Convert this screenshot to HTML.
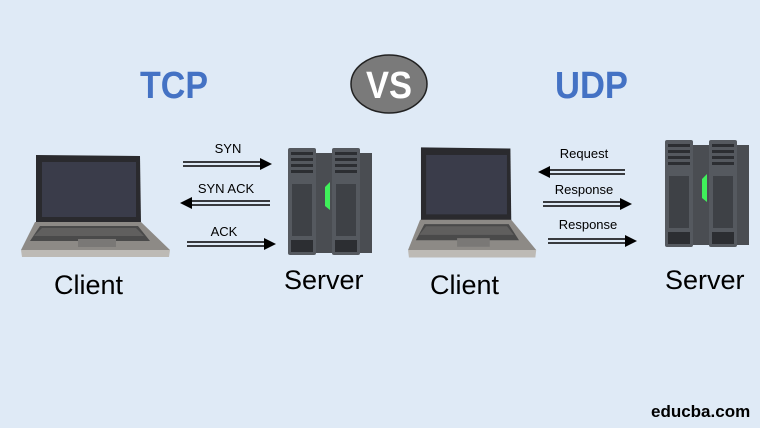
<!DOCTYPE html>
<html><head><meta charset="utf-8"><style>
html,body{margin:0;padding:0;background:#dfeaf6;}
svg{display:block;}
text{font-family:"Liberation Sans",sans-serif;}
</style></head><body>
<svg width="760" height="428" viewBox="0 0 760 428" xmlns="http://www.w3.org/2000/svg">
<defs>
<g id="laptop">
  <path d="M36,155 L140,156 L141,223 L36,223 Z" fill="#2a2a2e"/>
  <rect x="42" y="162" width="94" height="55" fill="#3a3c4a"/>
  <path d="M35,222 L141,222 L170,250 L21,250 Z" fill="#8d8a86"/>
  <path d="M40,226 L138,226 L150,241 L30,241 Z" fill="#4a4a4a"/>
  <path d="M42,228 L136,228 L144,236 L34,236 Z" fill="#6a6866" opacity="0.7"/>
  <rect x="78" y="239" width="38" height="8" fill="#7a7876"/>
  <path d="M21,250 L170,250 L169,257 L22,257 Z" fill="#bdbab5"/>
</g>
<g id="server">
  <rect x="316" y="153" width="56" height="100" fill="#4a4d52"/>
  <rect x="288" y="148" width="28" height="107" rx="2" fill="#55595f"/>
  <rect x="332" y="148" width="28" height="107" rx="2" fill="#55595f"/>
  <g fill="#2c2e32">
    <rect x="291" y="152" width="22" height="3"/><rect x="291" y="158" width="22" height="3"/><rect x="291" y="164" width="22" height="3"/><rect x="291" y="170" width="22" height="3"/>
    <rect x="335" y="152" width="22" height="3"/><rect x="335" y="158" width="22" height="3"/><rect x="335" y="164" width="22" height="3"/><rect x="335" y="170" width="22" height="3"/>
    <rect x="292" y="184" width="20" height="52" fill="#3e4146"/><rect x="336" y="184" width="20" height="52" fill="#3e4146"/>
    <rect x="291" y="240" width="22" height="12"/><rect x="335" y="240" width="22" height="12"/>
  </g>
  <path d="M325,187 L330,182 L330,210 L325,206 Z" fill="#3ff05a"/>
</g>
</defs>

<text x="140" y="98" font-size="38" font-weight="bold" fill="#4472c4" textLength="68" lengthAdjust="spacingAndGlyphs">TCP</text>
<text x="555" y="98" font-size="38" font-weight="bold" fill="#4472c4" textLength="73" lengthAdjust="spacingAndGlyphs">UDP</text>
<ellipse cx="389" cy="84" rx="38" ry="29" fill="#7a7a7a" stroke="#222" stroke-width="1.5"/>
<text x="366" y="98" font-size="38" font-weight="bold" fill="#fff" textLength="46" lengthAdjust="spacingAndGlyphs">VS</text>

<use href="#laptop"/>
<use href="#server"/>
<use href="#laptop" transform="translate(390,-20) scale(0.86,1.08)"/>
<use href="#server" transform="translate(377,-8)"/>

<g stroke="#000" stroke-width="1.5" fill="none">
  <path d="M183,162 H262 M183,166 H262"/>
  <path d="M190,201 H270 M190,205 H270"/>
  <path d="M187,242 H266 M187,246 H266"/>
  <path d="M548,170 H625 M548,174 H625"/>
  <path d="M543,202 H622 M543,206 H622"/>
  <path d="M548,239 H627 M548,243 H627"/>
</g>
<g fill="#000">
  <path d="M260,158 L272,164 L260,170 Z"/>
  <path d="M192,197 L180,203 L192,209 Z"/>
  <path d="M264,238 L276,244 L264,250 Z"/>
  <path d="M550,166 L538,172 L550,178 Z"/>
  <path d="M620,198 L632,204 L620,210 Z"/>
  <path d="M625,235 L637,241 L625,247 Z"/>
</g>
<g font-size="13" fill="#000" text-anchor="middle">
  <text x="228" y="153">SYN</text>
  <text x="226" y="193">SYN ACK</text>
  <text x="224" y="236">ACK</text>
  <text x="584" y="158">Request</text>
  <text x="584" y="194">Response</text>
  <text x="588" y="229">Response</text>
</g>
<g font-size="27" fill="#000">
  <text x="54" y="294">Client</text>
  <text x="284" y="289">Server</text>
  <text x="430" y="294">Client</text>
  <text x="665" y="289">Server</text>
</g>
<text x="651" y="417" font-size="17" font-weight="bold" fill="#000">educba.com</text>
</svg>
</body></html>
